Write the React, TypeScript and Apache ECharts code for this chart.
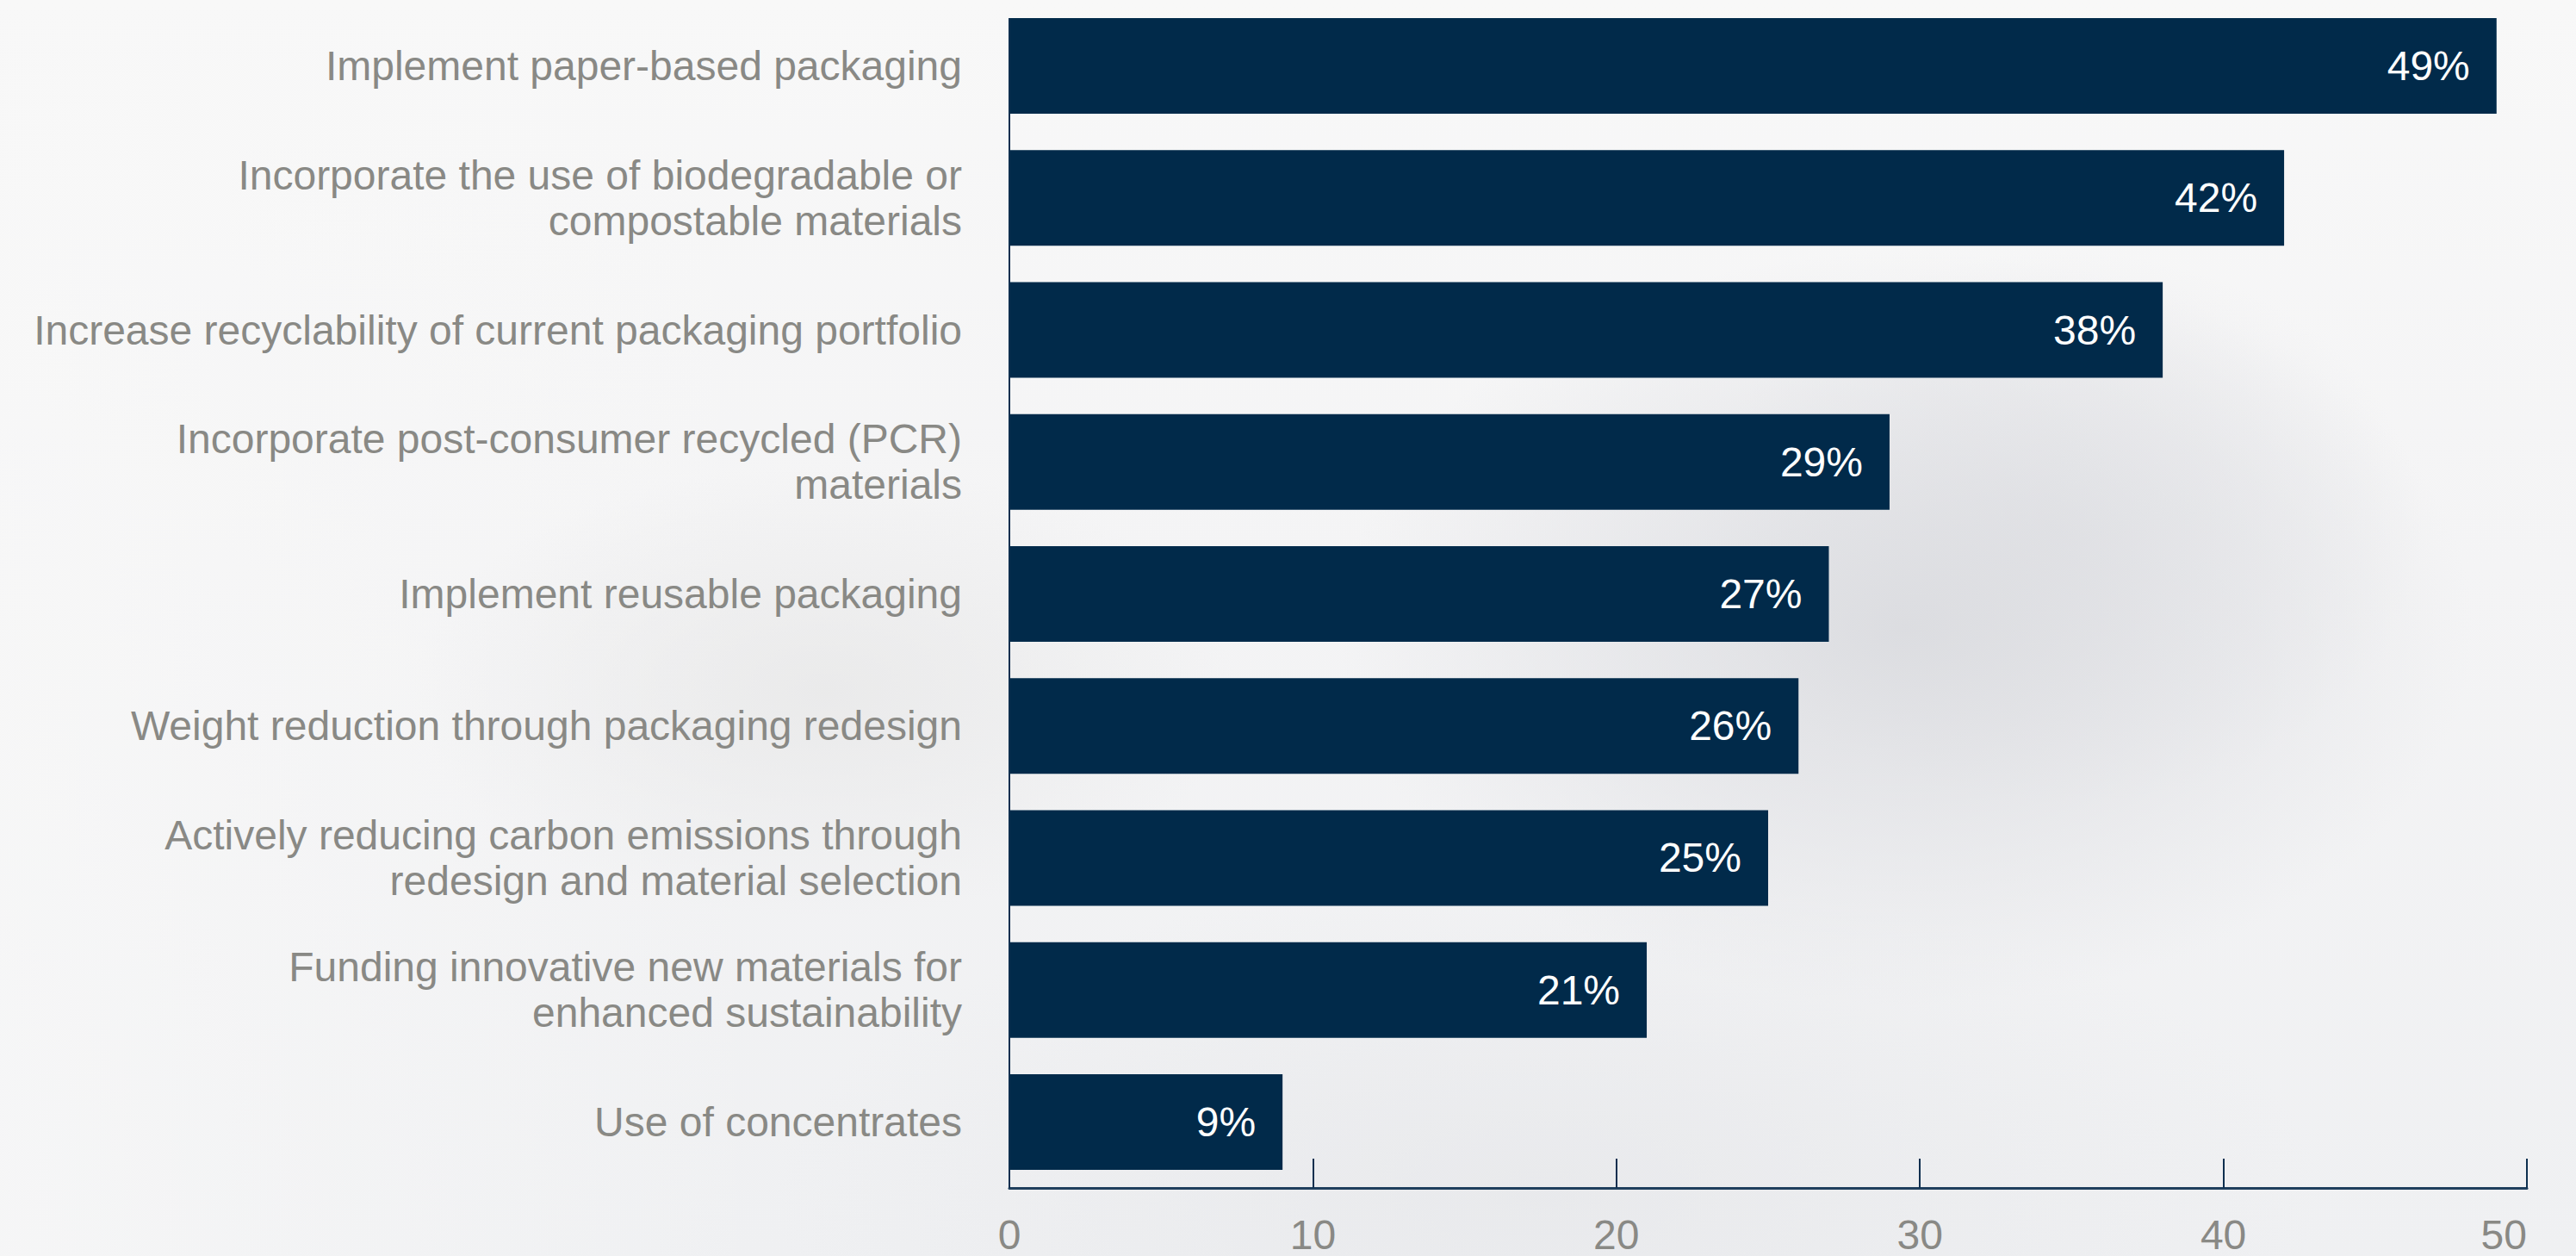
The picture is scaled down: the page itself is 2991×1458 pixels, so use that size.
import React, { useEffect, useRef } from "react";
import * as echarts from "echarts";

const categories: string[] = [
  "Implement paper-based packaging",
  "Incorporate the use of biodegradable or\ncompostable materials",
  "Increase recyclability of current packaging portfolio",
  "Incorporate post-consumer recycled (PCR)\nmaterials",
  "Implement reusable packaging",
  "Weight reduction through packaging redesign",
  "Actively reducing carbon emissions through\nredesign and material selection",
  "Funding innovative new materials for\nenhanced sustainability",
  "Use of concentrates",
];

const values: number[] = [49, 42, 38, 29, 27, 26, 25, 21, 9];

const xTickMin = 0;
const xTickMax = 50;
const xTickInterval = 10;

const FONT = '"Helvetica Neue", Helvetica, "Liberation Sans", Arial, sans-serif';
const NAVY = "#012a4a";
const AXIS = "#0d2f4f";
const GRAY_TEXT = "#898985";
const BAR_WIDTH = 111;

export default function App() {
  const ref = useRef<HTMLDivElement>(null);

  useEffect(() => {
    document.body.style.margin = "0";
    if (!ref.current) return;
    const chart = echarts.init(ref.current, null, { renderer: "svg" });
    chart.setOption({
      animation: false,
      backgroundColor: "transparent",
      grid: {
        left: 1172,
        right: 57,
        top: 0,
        bottom: 79,
        containLabel: false,
        outerBoundsMode: "none",
      },
      xAxis: {
        type: "value",
        min: xTickMin,
        max: xTickMax,
        interval: xTickInterval,
        splitLine: { show: false },
        axisLine: { show: true, lineStyle: { color: "#1f3f5d", width: 3 } },
        axisTick: {
          show: true,
          inside: true,
          length: 34,
          lineStyle: { color: AXIS, width: 2 },
        },
        axisLabel: {
          show: true,
          color: GRAY_TEXT,
          fontSize: 48,
          fontFamily: FONT,
          margin: 30,
          alignMaxLabel: "right",
          alignMinLabel: "center",
        },
      },
      yAxis: {
        type: "category",
        data: categories,
        inverse: true,
        axisLine: { show: false },
        axisTick: { show: false },
        axisLabel: {
          show: true,
          color: GRAY_TEXT,
          fontSize: 48,
          lineHeight: 53,
          fontFamily: FONT,
          margin: 55,
          align: "right",
        },
      },
      series: [
        {
          type: "bar",
          data: values,
          barWidth: BAR_WIDTH,
          itemStyle: { color: NAVY },
          label: {
            show: true,
            position: "insideRight",
            distance: 31,
            color: "#ffffff",
            fontSize: 48,
            fontFamily: FONT,
            formatter: (p: any) => `${p.value}%`,
          },
        },
      ],
    });

    // vertical axis line from the top of the first bar down to the x axis
    const x0 = chart.convertToPixel({ xAxisIndex: 0 }, xTickMin) as number;
    const yFirst = chart.convertToPixel({ yAxisIndex: 0 }, categories[0]) as number;
    const yBottom = chart.convertToPixel({ xAxisIndex: 0 }, xTickMin) !== undefined
      ? (chart as any).getModel().getComponent("grid", 0).coordinateSystem.getRect()
      : null;
    if (typeof x0 === "number" && typeof yFirst === "number" && yBottom) {
      chart.setOption({
        graphic: [
          {
            type: "line",
            silent: true,
            z: 10,
            shape: {
              x1: x0,
              y1: yFirst - BAR_WIDTH / 2,
              x2: x0,
              y2: yBottom.y + yBottom.height,
            },
            style: { stroke: AXIS, lineWidth: 2 },
          },
        ],
      });
    }
    return () => chart.dispose();
  }, []);

  return (
    <div
      style={{
        position: "absolute",
        left: 0,
        top: 0,
        width: 2991,
        height: 1458,
        background: [
          "radial-gradient(ellipse 22% 30% at 74% 50%, rgba(218,219,223,0.9) 0%, rgba(222,223,227,0.55) 50%, rgba(230,231,234,0) 100%)",
          "radial-gradient(ellipse 14% 22% at 80% 42%, rgba(214,215,220,0.5) 0%, rgba(214,215,220,0) 100%)",
          "radial-gradient(ellipse 16% 18% at 32% 55%, rgba(228,228,228,0.6) 0%, rgba(228,228,228,0) 100%)",
          "radial-gradient(ellipse 30% 25% at 60% 95%, rgba(228,229,232,0.6) 0%, rgba(228,229,232,0) 100%)",
          "linear-gradient(90deg, rgba(248,248,248,0.7) 0%, rgba(248,248,248,0) 30%)",
          "linear-gradient(180deg, #f8f8f8 0%, #f4f4f5 45%, #eff0f2 100%)",
        ].join(", "),
      }}
    >
      <div ref={ref} style={{ width: 2991, height: 1458 }} />
    </div>
  );
}
